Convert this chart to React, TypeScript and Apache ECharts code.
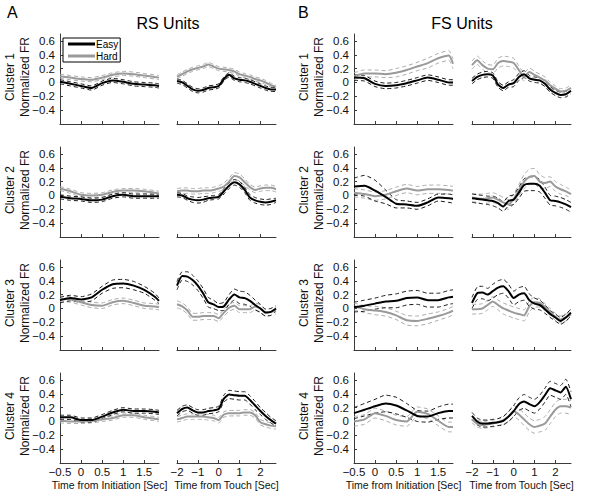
import { useEffect, useRef } from "react";
import * as echarts from "echarts";

// Time bases (seconds)
const initTimes = [-0.5, -0.25, 0, 0.25, 0.5, 0.75, 1, 1.25, 1.5, 1.75, 1.85];
const touchTimes = [-2, -1.75, -1.5, -1.25, -1, -0.75, -0.5, -0.25, 0, 0.25, 0.5, 0.75, 1, 1.25, 1.5, 1.75, 2, 2.25, 2.5, 2.75];

// Tick labels
const yTicks = [-0.4, -0.2, 0, 0.2, 0.4, 0.6];
const initTicks = [-0.5, 0, 0.5, 1, 1.5];
const touchTicks = [-2, -1, 0, 1, 2];

const clusterNames = ["Cluster 1", "Cluster 2", "Cluster 3", "Cluster 4"];
const unitTitles = ["RS Units", "FS Units"];
const panelLetters = ["A", "B"];
const conditions = ["Easy", "Hard"];
const initLabel = "Time from Initiation [Sec]";
const touchLabel = "Time from Touch [Sec]";

// ---- RS units ----
const rsC1InitEasy = [0.01, -0.02, -0.05, -0.08, -0.01, 0.03, 0.01, -0.02, -0.03, -0.04, -0.05];
const rsC1InitEasySem = [0.03, 0.03, 0.03, 0.03, 0.03, 0.03, 0.03, 0.03, 0.03, 0.03, 0.03];
const rsC1InitHard = [0.09, 0.07, 0.05, 0.04, 0.07, 0.11, 0.13, 0.12, 0.1, 0.08, 0.07];
const rsC1InitHardSem = [0.03, 0.03, 0.03, 0.03, 0.03, 0.03, 0.03, 0.03, 0.03, 0.03, 0.03];
const rsC1TouchEasy = [0.02, 0.0, -0.05, -0.1, -0.12, -0.11, -0.08, -0.07, -0.05, 0.05, 0.11, 0.06, 0.04, 0.03, 0.01, -0.02, -0.05, -0.08, -0.1, -0.1];
const rsC1TouchEasySem = [0.03, 0.03, 0.03, 0.03, 0.03, 0.03, 0.03, 0.03, 0.03, 0.03, 0.03, 0.03, 0.03, 0.03, 0.03, 0.03, 0.03, 0.03, 0.03, 0.03];
const rsC1TouchHard = [0.08, 0.12, 0.16, 0.19, 0.21, 0.23, 0.26, 0.23, 0.2, 0.19, 0.18, 0.16, 0.12, 0.1, 0.08, 0.05, 0.03, 0.0, -0.04, -0.06];
const rsC1TouchHardSem = [0.03, 0.03, 0.03, 0.03, 0.03, 0.03, 0.03, 0.03, 0.03, 0.03, 0.03, 0.03, 0.03, 0.03, 0.03, 0.03, 0.03, 0.03, 0.03, 0.03];

const rsC2InitEasy = [-0.02, -0.04, -0.05, -0.07, -0.06, -0.01, 0.01, -0.01, -0.01, -0.01, -0.01];
const rsC2InitEasySem = [0.03, 0.03, 0.03, 0.03, 0.03, 0.03, 0.03, 0.03, 0.03, 0.03, 0.03];
const rsC2InitHard = [0.1, 0.06, 0.01, 0.0, 0.01, 0.05, 0.07, 0.07, 0.06, 0.04, 0.03];
const rsC2InitHardSem = [0.03, 0.03, 0.03, 0.03, 0.03, 0.03, 0.03, 0.03, 0.03, 0.03, 0.03];
const rsC2TouchEasy = [0.01, 0.0, -0.04, -0.06, -0.07, -0.06, -0.04, -0.03, -0.02, 0.06, 0.14, 0.19, 0.16, 0.08, -0.03, -0.07, -0.09, -0.1, -0.09, -0.07];
const rsC2TouchEasySem = [0.03, 0.03, 0.03, 0.04, 0.04, 0.04, 0.03, 0.03, 0.03, 0.04, 0.04, 0.04, 0.04, 0.04, 0.04, 0.04, 0.04, 0.04, 0.04, 0.03];
const rsC2TouchHard = [0.06, 0.07, 0.07, 0.06, 0.06, 0.07, 0.07, 0.08, 0.1, 0.13, 0.2, 0.28, 0.26, 0.19, 0.12, 0.08, 0.1, 0.11, 0.11, 0.09];
const rsC2TouchHardSem = [0.04, 0.04, 0.04, 0.04, 0.04, 0.04, 0.04, 0.04, 0.04, 0.05, 0.05, 0.05, 0.05, 0.05, 0.04, 0.04, 0.04, 0.04, 0.04, 0.04];

const rsC3InitEasy = [0.12, 0.15, 0.13, 0.16, 0.27, 0.35, 0.36, 0.33, 0.27, 0.17, 0.11];
const rsC3InitEasySem = [0.04, 0.04, 0.04, 0.05, 0.05, 0.06, 0.06, 0.06, 0.05, 0.05, 0.04];
const rsC3InitHard = [0.14, 0.13, 0.09, 0.05, 0.04, 0.09, 0.11, 0.08, 0.04, 0.03, 0.02];
const rsC3InitHardSem = [0.04, 0.04, 0.04, 0.04, 0.04, 0.04, 0.04, 0.04, 0.04, 0.04, 0.04];
const rsC3TouchEasy = [0.33, 0.47, 0.46, 0.41, 0.33, 0.22, 0.09, 0.06, 0.02, 0.03, 0.13, 0.2, 0.16, 0.15, 0.11, 0.05, 0.0, -0.06, -0.05, 0.0];
const rsC3TouchEasySem = [0.06, 0.06, 0.07, 0.07, 0.07, 0.07, 0.07, 0.06, 0.05, 0.06, 0.07, 0.08, 0.09, 0.09, 0.08, 0.07, 0.06, 0.05, 0.05, 0.04];
const rsC3TouchHard = [0.06, 0.03, -0.03, -0.12, -0.12, -0.11, -0.11, -0.11, -0.14, -0.06, 0.01, 0.04, -0.01, -0.01, -0.01, 0.03, 0.0, -0.06, -0.05, -0.03];
const rsC3TouchHardSem = [0.05, 0.05, 0.05, 0.05, 0.05, 0.05, 0.05, 0.05, 0.05, 0.05, 0.05, 0.05, 0.05, 0.05, 0.05, 0.05, 0.05, 0.05, 0.05, 0.05];

const rsC4InitEasy = [0.06, 0.06, 0.02, 0.02, 0.07, 0.13, 0.17, 0.15, 0.15, 0.14, 0.13];
const rsC4InitEasySem = [0.03, 0.03, 0.03, 0.03, 0.03, 0.03, 0.03, 0.03, 0.03, 0.03, 0.03];
const rsC4InitHard = [0.01, 0.0, 0.0, 0.01, 0.03, 0.05, 0.09, 0.09, 0.06, 0.04, 0.03];
const rsC4InitHardSem = [0.03, 0.03, 0.03, 0.03, 0.03, 0.03, 0.03, 0.03, 0.03, 0.03, 0.03];
const rsC4TouchEasy = [0.12, 0.18, 0.2, 0.16, 0.13, 0.13, 0.15, 0.16, 0.18, 0.33, 0.39, 0.38, 0.37, 0.37, 0.31, 0.23, 0.15, 0.08, 0.02, -0.03];
const rsC4TouchEasySem = [0.04, 0.04, 0.04, 0.04, 0.04, 0.04, 0.04, 0.04, 0.04, 0.05, 0.06, 0.06, 0.06, 0.06, 0.06, 0.06, 0.05, 0.05, 0.04, 0.04];
const rsC4TouchHard = [0.03, 0.05, 0.07, 0.07, 0.07, 0.07, 0.06, 0.05, 0.02, 0.1, 0.12, 0.12, 0.12, 0.13, 0.13, 0.09, -0.01, -0.04, -0.06, -0.07];
const rsC4TouchHardSem = [0.04, 0.04, 0.04, 0.04, 0.04, 0.04, 0.04, 0.04, 0.04, 0.04, 0.04, 0.04, 0.04, 0.04, 0.04, 0.04, 0.04, 0.04, 0.04, 0.04];

// ---- FS units ----
const fsC1InitEasy = [0.07, 0.06, -0.02, -0.05, -0.04, -0.01, 0.03, 0.07, 0.04, 0.0, 0.0];
const fsC1InitEasySem = [0.04, 0.04, 0.04, 0.04, 0.04, 0.04, 0.04, 0.04, 0.04, 0.04, 0.04];
const fsC1InitHard = [0.09, 0.13, 0.13, 0.12, 0.14, 0.18, 0.23, 0.28, 0.35, 0.39, 0.27];
const fsC1InitHardSem = [0.05, 0.05, 0.05, 0.05, 0.06, 0.06, 0.06, 0.07, 0.07, 0.07, 0.07];
const fsC1TouchEasy = [0.02, 0.08, 0.11, 0.12, 0.1, -0.03, -0.08, -0.03, -0.01, 0.08, 0.12, 0.06, 0.04, 0.03, -0.02, -0.1, -0.15, -0.18, -0.17, -0.12];
const fsC1TouchEasySem = [0.04, 0.04, 0.04, 0.04, 0.04, 0.04, 0.04, 0.04, 0.05, 0.05, 0.05, 0.04, 0.04, 0.04, 0.04, 0.04, 0.04, 0.04, 0.04, 0.04];
const fsC1TouchHard = [0.25, 0.32, 0.25, 0.2, 0.19, 0.28, 0.31, 0.3, 0.28, 0.18, 0.08, 0.15, 0.11, 0.07, 0.03, -0.04, -0.09, -0.13, -0.12, -0.08];
const fsC1TouchHardSem = [0.06, 0.06, 0.06, 0.06, 0.06, 0.07, 0.07, 0.07, 0.07, 0.06, 0.06, 0.06, 0.05, 0.05, 0.05, 0.04, 0.04, 0.04, 0.04, 0.04];

const fsC2InitEasy = [0.13, 0.14, 0.07, -0.02, -0.12, -0.13, -0.15, -0.1, -0.03, -0.04, -0.05];
const fsC2InitEasySem = [0.12, 0.15, 0.15, 0.1, 0.06, 0.05, 0.05, 0.05, 0.05, 0.06, 0.06];
const fsC2InitHard = [0.04, 0.02, -0.01, 0.01, 0.06, 0.1, 0.07, 0.09, 0.09, 0.08, 0.07];
const fsC2InitHardSem = [0.06, 0.06, 0.06, 0.06, 0.06, 0.06, 0.06, 0.06, 0.06, 0.06, 0.06];
const fsC2TouchEasy = [-0.04, -0.05, -0.06, -0.07, -0.08, -0.11, -0.16, -0.08, -0.06, 0.04, 0.15, 0.17, 0.17, 0.14, 0.04, -0.07, -0.08, -0.1, -0.13, -0.17];
const fsC2TouchEasySem = [0.06, 0.06, 0.06, 0.06, 0.07, 0.07, 0.07, 0.07, 0.07, 0.08, 0.09, 0.1, 0.1, 0.09, 0.08, 0.07, 0.07, 0.07, 0.07, 0.07];
const fsC2TouchHard = [-0.03, -0.04, -0.05, -0.04, -0.03, -0.06, -0.1, -0.13, -0.05, 0.08, 0.2, 0.27, 0.28, 0.2, 0.18, 0.2, 0.13, 0.09, 0.06, 0.02];
const fsC2TouchHardSem = [0.06, 0.06, 0.07, 0.07, 0.07, 0.07, 0.07, 0.07, 0.07, 0.08, 0.1, 0.11, 0.11, 0.1, 0.08, 0.07, 0.07, 0.07, 0.06, 0.06];

const fsC3InitEasy = [0.02, 0.04, 0.07, 0.1, 0.11, 0.15, 0.16, 0.12, 0.12, 0.16, 0.17];
const fsC3InitEasySem = [0.07, 0.08, 0.08, 0.09, 0.1, 0.1, 0.1, 0.1, 0.1, 0.1, 0.1];
const fsC3InitHard = [0.03, -0.01, -0.03, -0.05, -0.1, -0.17, -0.18, -0.15, -0.11, -0.06, -0.03];
const fsC3InitHardSem = [0.05, 0.05, 0.06, 0.06, 0.06, 0.07, 0.07, 0.07, 0.06, 0.06, 0.06];
const fsC3TouchEasy = [0.08, 0.22, 0.23, 0.2, 0.25, 0.3, 0.32, 0.25, 0.15, 0.2, 0.22, 0.12, 0.07, 0.05, -0.01, -0.08, -0.13, -0.18, -0.13, -0.06];
const fsC3TouchEasySem = [0.08, 0.09, 0.09, 0.09, 0.1, 0.1, 0.1, 0.1, 0.1, 0.1, 0.1, 0.09, 0.08, 0.07, 0.06, 0.05, 0.05, 0.05, 0.05, 0.05];
const fsC3TouchHard = [-0.01, -0.01, 0.0, 0.05, 0.1, 0.05, 0.0, -0.03, -0.06, -0.08, -0.1, 0.03, 0.09, 0.08, 0.02, -0.05, -0.12, -0.16, -0.13, -0.09];
const fsC3TouchHardSem = [0.07, 0.07, 0.07, 0.07, 0.07, 0.07, 0.08, 0.08, 0.08, 0.08, 0.08, 0.08, 0.07, 0.06, 0.05, 0.05, 0.05, 0.05, 0.05, 0.05];

const fsC4InitEasy = [0.12, 0.17, 0.22, 0.26, 0.23, 0.16, 0.08, 0.07, 0.12, 0.15, 0.15];
const fsC4InitEasySem = [0.08, 0.09, 0.1, 0.12, 0.12, 0.1, 0.08, 0.08, 0.09, 0.1, 0.1];
const fsC4InitHard = [0.0, 0.03, 0.12, 0.08, 0.02, 0.0, 0.14, 0.11, 0.01, -0.08, -0.08];
const fsC4InitHardSem = [0.07, 0.07, 0.07, 0.07, 0.07, 0.07, 0.07, 0.07, 0.07, 0.07, 0.07];
const fsC4TouchEasy = [0.08, 0.0, -0.03, -0.03, -0.02, -0.01, 0.01, 0.07, 0.15, 0.25, 0.29, 0.25, 0.22, 0.28, 0.38, 0.48, 0.45, 0.42, 0.5, 0.32];
const fsC4TouchEasySem = [0.05, 0.05, 0.05, 0.05, 0.05, 0.05, 0.06, 0.07, 0.08, 0.09, 0.1, 0.1, 0.1, 0.1, 0.1, 0.1, 0.1, 0.1, 0.11, 0.11];
const fsC4TouchHard = [0.03, -0.03, -0.05, -0.04, -0.03, -0.01, 0.02, 0.07, 0.15, 0.1, 0.03, -0.04, -0.08, -0.06, -0.03, 0.07, 0.17, 0.22, 0.22, 0.2];
const fsC4TouchHardSem = [0.05, 0.05, 0.05, 0.05, 0.05, 0.05, 0.06, 0.07, 0.08, 0.08, 0.09, 0.09, 0.09, 0.09, 0.1, 0.1, 0.1, 0.1, 0.1, 0.1];

type Trace = { mean: number[]; sem: number[] };
type Panel = { col: number; row: number; align: number; easy: Trace; hard: Trace };

const panels: Panel[] = [
  { col: 0, row: 0, align: 0, easy: { mean: rsC1InitEasy, sem: rsC1InitEasySem }, hard: { mean: rsC1InitHard, sem: rsC1InitHardSem } },
  { col: 0, row: 0, align: 1, easy: { mean: rsC1TouchEasy, sem: rsC1TouchEasySem }, hard: { mean: rsC1TouchHard, sem: rsC1TouchHardSem } },
  { col: 0, row: 1, align: 0, easy: { mean: rsC2InitEasy, sem: rsC2InitEasySem }, hard: { mean: rsC2InitHard, sem: rsC2InitHardSem } },
  { col: 0, row: 1, align: 1, easy: { mean: rsC2TouchEasy, sem: rsC2TouchEasySem }, hard: { mean: rsC2TouchHard, sem: rsC2TouchHardSem } },
  { col: 0, row: 2, align: 0, easy: { mean: rsC3InitEasy, sem: rsC3InitEasySem }, hard: { mean: rsC3InitHard, sem: rsC3InitHardSem } },
  { col: 0, row: 2, align: 1, easy: { mean: rsC3TouchEasy, sem: rsC3TouchEasySem }, hard: { mean: rsC3TouchHard, sem: rsC3TouchHardSem } },
  { col: 0, row: 3, align: 0, easy: { mean: rsC4InitEasy, sem: rsC4InitEasySem }, hard: { mean: rsC4InitHard, sem: rsC4InitHardSem } },
  { col: 0, row: 3, align: 1, easy: { mean: rsC4TouchEasy, sem: rsC4TouchEasySem }, hard: { mean: rsC4TouchHard, sem: rsC4TouchHardSem } },
  { col: 1, row: 0, align: 0, easy: { mean: fsC1InitEasy, sem: fsC1InitEasySem }, hard: { mean: fsC1InitHard, sem: fsC1InitHardSem } },
  { col: 1, row: 0, align: 1, easy: { mean: fsC1TouchEasy, sem: fsC1TouchEasySem }, hard: { mean: fsC1TouchHard, sem: fsC1TouchHardSem } },
  { col: 1, row: 1, align: 0, easy: { mean: fsC2InitEasy, sem: fsC2InitEasySem }, hard: { mean: fsC2InitHard, sem: fsC2InitHardSem } },
  { col: 1, row: 1, align: 1, easy: { mean: fsC2TouchEasy, sem: fsC2TouchEasySem }, hard: { mean: fsC2TouchHard, sem: fsC2TouchHardSem } },
  { col: 1, row: 2, align: 0, easy: { mean: fsC3InitEasy, sem: fsC3InitEasySem }, hard: { mean: fsC3InitHard, sem: fsC3InitHardSem } },
  { col: 1, row: 2, align: 1, easy: { mean: fsC3TouchEasy, sem: fsC3TouchEasySem }, hard: { mean: fsC3TouchHard, sem: fsC3TouchHardSem } },
  { col: 1, row: 3, align: 0, easy: { mean: fsC4InitEasy, sem: fsC4InitEasySem }, hard: { mean: fsC4InitHard, sem: fsC4InitHardSem } },
  { col: 1, row: 3, align: 1, easy: { mean: fsC4TouchEasy, sem: fsC4TouchEasySem }, hard: { mean: fsC4TouchHard, sem: fsC4TouchHardSem } },
];

// Layout (pixels)
const FONT = "'Liberation Sans', Arial, Helvetica, sans-serif";
const panelLeft = [
  [60, 177],
  [354, 472],
];
const panelWidth = [99, 99];
const rowTop = [34, 147, 260, 373];
const rowHeight = 90;
const Y_MIN = -0.6;
const Y_MAX = 0.7;

const EASY_COLOR = "#000000";
const HARD_COLOR = "#9a9a9a";
const EASY_SEM_COLOR = "#1a1a1a";
const HARD_SEM_COLOR = "#ababab";

const fmt = (v: number) => {
  const r = Math.round(v * 100) / 100;
  return r < 0 ? "\u2212" + String(Math.abs(r)) : String(r);
};

function buildOption() {
  const grid: any[] = [];
  const xAxis: any[] = [];
  const yAxis: any[] = [];
  const series: any[] = [];

  panels.forEach((p, i) => {
    const times = p.align === 0 ? initTimes : touchTimes;
    const ticks = p.align === 0 ? initTicks : touchTicks;
    const isBottom = p.row === 3;
    const hasY = p.align === 0;

    grid.push({
      left: panelLeft[p.col][p.align],
      top: rowTop[p.row],
      width: panelWidth[p.align],
      height: rowHeight,
    });

    xAxis.push({
      type: "value",
      gridIndex: i,
      min: times[0],
      max: times[times.length - 1],
      splitLine: { show: false },
      axisLine: { show: true, onZero: false, lineStyle: { color: "#3a3a3a", width: 1 } },
      axisTick: { show: true, inside: true, length: 3, customValues: ticks, lineStyle: { color: "#3a3a3a" } },
      axisLabel: {
        show: isBottom,
        customValues: ticks,
        formatter: fmt,
        fontFamily: FONT,
        fontSize: 11.5,
        color: "#111",
        margin: 3,
      },
      name: isBottom ? (p.align === 0 ? initLabel : touchLabel) : "",
      nameLocation: "middle",
      nameGap: 16,
      nameTextStyle: { fontFamily: FONT, fontSize: 10.5, color: "#111" },
    });

    yAxis.push({
      type: "value",
      gridIndex: i,
      min: Y_MIN,
      max: Y_MAX,
      show: hasY,
      splitLine: { show: false },
      axisLine: { show: hasY, onZero: false, lineStyle: { color: "#3a3a3a", width: 1 } },
      axisTick: { show: hasY, inside: true, length: 3, customValues: yTicks, lineStyle: { color: "#3a3a3a" } },
      axisLabel: {
        show: hasY,
        customValues: yTicks,
        formatter: fmt,
        fontFamily: FONT,
        fontSize: 11.5,
        color: "#111",
        margin: 5,
      },
    });

    const traces: [string, Trace, string, string][] = [
      [conditions[1], p.hard, HARD_COLOR, HARD_SEM_COLOR],
      [conditions[0], p.easy, EASY_COLOR, EASY_SEM_COLOR],
    ];
    traces.forEach(([name, tr, col, semCol]) => {
      const upper = tr.mean.map((m, k) => [times[k], m + tr.sem[k]]);
      const lower = tr.mean.map((m, k) => [times[k], m - tr.sem[k]]);
      const mean = tr.mean.map((m, k) => [times[k], m]);
      [upper, lower].forEach((d) => {
        series.push({
          type: "line",
          name: name + " SEM",
          xAxisIndex: i,
          yAxisIndex: i,
          data: d,
          symbol: "none",
          smooth: 0.2,
          silent: true,
          lineStyle: { color: semCol, width: 1, type: [4, 3] },
          z: 2,
        });
      });
      series.push({
        type: "line",
        name,
        xAxisIndex: i,
        yAxisIndex: i,
        data: mean,
        symbol: "none",
        smooth: 0.2,
        itemStyle: { color: col },
        lineStyle: { color: col, width: 2 },
        z: name === conditions[0] ? 4 : 3,
      });
    });
  });

  const graphic: any[] = [];
  // Panel letters and unit titles
  [0, 1].forEach((c) => {
    graphic.push({
      type: "text",
      left: c === 0 ? 7 : 298,
      top: 4,
      style: { text: panelLetters[c], font: `16px ${FONT}`, fill: "#000" },
    });
    graphic.push({
      type: "text",
      x: c === 0 ? 168 : 462,
      y: 23,
      style: {
        text: unitTitles[c],
        font: `16px ${FONT}`,
        fill: "#000",
        align: "center",
        verticalAlign: "middle",
      },
    });
  });
  // Y-axis labels for every row
  [0, 1].forEach((c) => {
    rowTop.forEach((top, r) => {
      const cy = top + rowHeight / 2 - 2;
      const x0 = c === 0 ? 10 : 304;
      graphic.push({
        type: "text",
        x: x0,
        y: cy,
        rotation: Math.PI / 2,
        style: { text: clusterNames[r], font: `12px ${FONT}`, fill: "#111", align: "center", verticalAlign: "middle" },
      });
      graphic.push({
        type: "text",
        x: x0 + 15,
        y: cy,
        rotation: Math.PI / 2,
        style: { text: "Normalized FR", font: `12px ${FONT}`, fill: "#111", align: "center", verticalAlign: "middle" },
      });
    });
  });

  return {
    animation: false,
    backgroundColor: "#ffffff",
    grid,
    xAxis,
    yAxis,
    series,
    graphic,
    legend: {
      show: true,
      left: 63,
      top: 38,
      orient: "vertical",
      data: [
        { name: conditions[0], itemStyle: { color: EASY_COLOR } },
        { name: conditions[1], itemStyle: { color: HARD_COLOR } },
      ],
      icon: "rect",
      itemWidth: 27,
      itemHeight: 3,
      itemGap: 2,
      padding: [1, 2, 1, 5],
      borderColor: "#000",
      borderWidth: 1,
      backgroundColor: "#fff",
      selectedMode: false,
      textStyle: { fontFamily: FONT, fontSize: 10, color: "#000", padding: [0, 0, 0, -4] },
    },
  };
}

export default function App() {
  const ref = useRef<HTMLDivElement>(null);
  useEffect(() => {
    if (!ref.current) return;
    const chart = echarts.init(ref.current, undefined, { renderer: "svg" });
    chart.setOption(buildOption() as any);
    return () => chart.dispose();
  }, []);
  return (
    <div
      ref={ref}
      style={{ position: "absolute", left: 0, top: 0, width: 593, height: 500, background: "#fff" }}
    />
  );
}
